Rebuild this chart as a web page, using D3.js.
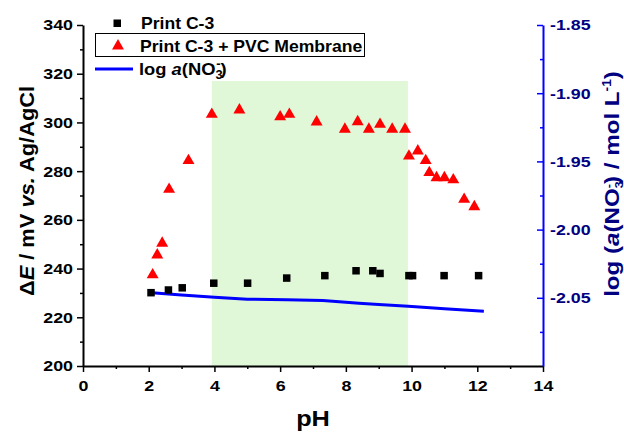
<!DOCTYPE html>
<html><head><meta charset="utf-8">
<script src="https://cdn.jsdelivr.net/npm/d3@7"></script>
<style>
body{margin:0;background:#fff;}
svg{display:block;font-family:"Liberation Sans",Arial,sans-serif;font-weight:bold;}
</style></head>
<body><svg id="c" width="624" height="432"></svg>
<script>
// ---- data ----
const phSquares = [2.07,2.60,3.02,3.98,5.01,6.20,7.36,8.31,8.82,9.04,9.92,10.03,10.99,12.04];
const eSquares  = [230.1,231.2,232.1,234.0,234.0,236.1,237.1,239.1,239.1,238.0,237.1,237.1,237.1,237.1];
const phTriangles = [2.12,2.26,2.41,2.62,3.21,3.92,4.76,6.00,6.28,7.11,7.97,8.36,8.70,9.04,9.41,9.80,9.92,10.19,10.43,10.54,10.76,11.00,11.27,11.60,11.91];
const eTriangles  = [237.4,245.6,250.4,272.5,284.3,303.3,305.1,302.3,303.3,300.2,297.2,300.3,297.2,299.2,297.2,297.2,286.2,288.3,284.3,279.4,277.3,277.3,276.4,268.4,265.4];
const phLine = [2.1,3.0,4.0,5.0,6.2,7.3,8.4,9.0,9.9,11.0,12.2];
const logA   = [-2.0463,-2.0480,-2.0496,-2.0510,-2.0515,-2.0520,-2.0540,-2.0550,-2.0562,-2.0580,-2.0598];
const shadeRange = [3.92, 9.89];
const shadeTop = 317;
const xTicks = [0,2,4,6,8,10,12,14];
const yLeftTicks = [200,220,240,260,280,300,320,340];
const yRightTicks = [-2.05,-2.00,-1.95,-1.90,-1.85];
const legendLabels = ["Print C-3","Print C-3 + PVC Membrane"];

// ---- scales ----
const svg = d3.select("#c");
const x = d3.scaleLinear().domain([0,14]).range([83,543]);
const yL = d3.scaleLinear().domain([200,340]).range([366,25]);
const yR = d3.scaleLinear().domain([-2.10,-1.85]).range([366,25]);
const navy = "#000080";

// shaded region
svg.append("rect")
  .attr("x", x(shadeRange[0])).attr("y", yL(shadeTop))
  .attr("width", x(shadeRange[1]) - x(shadeRange[0]))
  .attr("height", yL(200) - yL(shadeTop))
  .attr("fill", "#e0f8d8");

// axes
function styleAxis(g, color){
  g.select(".domain").attr("stroke", color).attr("stroke-width", 2);
  g.selectAll(".tick line").attr("stroke", color).attr("stroke-width", 1.5);
  g.selectAll(".tick text").attr("fill", color === "#0000ff" ? navy : "#000")
    .attr("font-size", 15.5).attr("font-weight","bold")
    .attr("font-family", '"Liberation Sans",Arial,sans-serif');
}
// minor ticks
svg.append("g").attr("transform","translate(0,366)")
  .call(d3.axisBottom(x).tickValues(d3.range(1,14,2)).tickSize(3).tickFormat(""))
  .call(g=>{g.select(".domain").remove(); g.selectAll("line").attr("stroke","#000").attr("stroke-width",1.5);});
svg.append("g").attr("transform","translate(83,0)")
  .call(d3.axisLeft(yL).tickValues(d3.range(210,340,20)).tickSize(3).tickFormat(""))
  .call(g=>{g.select(".domain").remove(); g.selectAll("line").attr("stroke","#000").attr("stroke-width",1.5);});
svg.append("g").attr("transform","translate(543,0)")
  .call(d3.axisRight(yR).tickValues([-2.075,-2.025,-1.975,-1.925,-1.875]).tickSize(-3).tickFormat(""))
  .call(g=>{g.select(".domain").remove(); g.selectAll("line").attr("stroke","#0000ff").attr("stroke-width",1.5);});

const gx = svg.append("g").attr("transform","translate(0,366)")
  .call(d3.axisBottom(x).tickValues(xTicks).tickSize(6).tickPadding(8).tickFormat(d3.format("d")).tickSizeOuter(0));
styleAxis(gx,"#000");
gx.selectAll(".tick text").each(function(){
  const t=d3.select(this); const yy=+t.attr("y");
  t.attr("y",null).attr("transform",`translate(0,${yy}) scale(1.15,1)`);
});
const gyl = svg.append("g").attr("transform","translate(83,0)")
  .call(d3.axisLeft(yL).tickValues(yLeftTicks).tickSize(6).tickPadding(4).tickSizeOuter(0));
styleAxis(gyl,"#000");
gyl.selectAll(".tick text").each(function(){
  const t=d3.select(this); const xx=+t.attr("x");
  t.attr("x",null).attr("transform",`translate(${xx},0) scale(1.15,1)`);
});
const gyr = svg.append("g").attr("transform","translate(543,0)")
  .call(d3.axisRight(yR).tickValues(yRightTicks).tickSize(-6).tickPadding(7).tickFormat(d3.format(".2f")).tickSizeOuter(0));
styleAxis(gyr,"#0000ff");
gyr.selectAll(".tick text").text(d=>d3.format(".2f")(d).replace("\u2212","-")).each(function(){
  const t=d3.select(this); const xx=+t.attr("x");
  t.attr("x",null).attr("transform",`translate(${xx},0) scale(1.15,1)`);
});

// line
svg.append("path")
  .datum(phLine.map((p,i)=>[p,logA[i]]))
  .attr("fill","none").attr("stroke","#0000ff").attr("stroke-width",3)
  .attr("d", d3.line().x(d=>x(d[0])).y(d=>yR(d[1])));

// squares
const sq = 7.5;
svg.append("g").selectAll("rect").data(phSquares.map((p,i)=>[p,eSquares[i]])).join("rect")
  .attr("x",d=>x(d[0])-sq/2).attr("y",d=>yL(d[1])-sq/2).attr("width",sq).attr("height",sq).attr("fill","#000");

// triangles
const tri = d3.symbol().type(d3.symbolTriangle).size(62);
svg.append("g").selectAll("path").data(phTriangles.map((p,i)=>[p,eTriangles[i]])).join("path")
  .attr("d",tri).attr("fill","#ff0000")
  .attr("transform",d=>`translate(${x(d[0])},${yL(d[1])})`);

// legend
const leg = svg.append("g").attr("font-size",16).attr("fill","#000");
leg.append("rect").attr("x",113.5).attr("y",19.5).attr("width",sq).attr("height",sq).attr("fill","#000");
leg.append("text").attr("transform","translate(141,29) scale(1.1,1)").text(legendLabels[0]);
leg.append("rect").attr("x",95.5).attr("y",33.5).attr("width",269).attr("height",23)
  .attr("fill","none").attr("stroke","#000").attr("stroke-width",1);
leg.append("path").attr("d",tri).attr("fill","#ff0000").attr("transform","translate(118,46)");
leg.append("text").attr("transform","translate(140,52) scale(1.1,1)").text(legendLabels[1]);
leg.append("line").attr("x1",95).attr("x2",133).attr("y1",69).attr("y2",69)
  .attr("stroke","#0000ff").attr("stroke-width",3);
const lt = leg.append("text").attr("transform","translate(139,75) scale(1.08,1)").attr("font-size",17);
lt.append("tspan").text("log ");
lt.append("tspan").attr("font-style","italic").text("a");
lt.append("tspan").text("(NO");
lt.append("tspan").attr("font-size",12).attr("dy",4).text("3");
lt.append("tspan").attr("font-size",12).attr("dx",-6).attr("dy",-11).text("-");
lt.append("tspan").attr("dy",7).text(")");

// x title
svg.append("text").attr("transform","translate(313,426) scale(1.15,1)")
  .attr("text-anchor","middle").attr("font-size",22).text("pH");

// left title
const tl = svg.append("text").attr("transform","translate(34,191) rotate(-90) scale(1.04,1)")
  .attr("text-anchor","middle").attr("font-size",21);
tl.append("tspan").text("\u0394");
tl.append("tspan").attr("font-style","italic").text("E");
tl.append("tspan").text(" / mV ");
tl.append("tspan").attr("font-style","italic").text("vs.");
tl.append("tspan").text(" Ag/AgCl");

// right title
const tr = svg.append("text").attr("transform","translate(619,184) rotate(-90) scale(1.15,1)")
  .attr("text-anchor","middle").attr("font-size",21).attr("fill",navy);
tr.append("tspan").text("log (");
tr.append("tspan").attr("font-style","italic").text("a");
tr.append("tspan").text("(NO");
tr.append("tspan").attr("font-size",11).attr("dy",4).text("3");
tr.append("tspan").attr("font-size",11).attr("dx",-6).attr("dy",-11).text("-");
tr.append("tspan").attr("dy",7).text(") / mol L");
tr.append("tspan").attr("font-size",12).attr("dy",-8).text("-1");
tr.append("tspan").attr("dy",8).text(")");
</script></body></html>
